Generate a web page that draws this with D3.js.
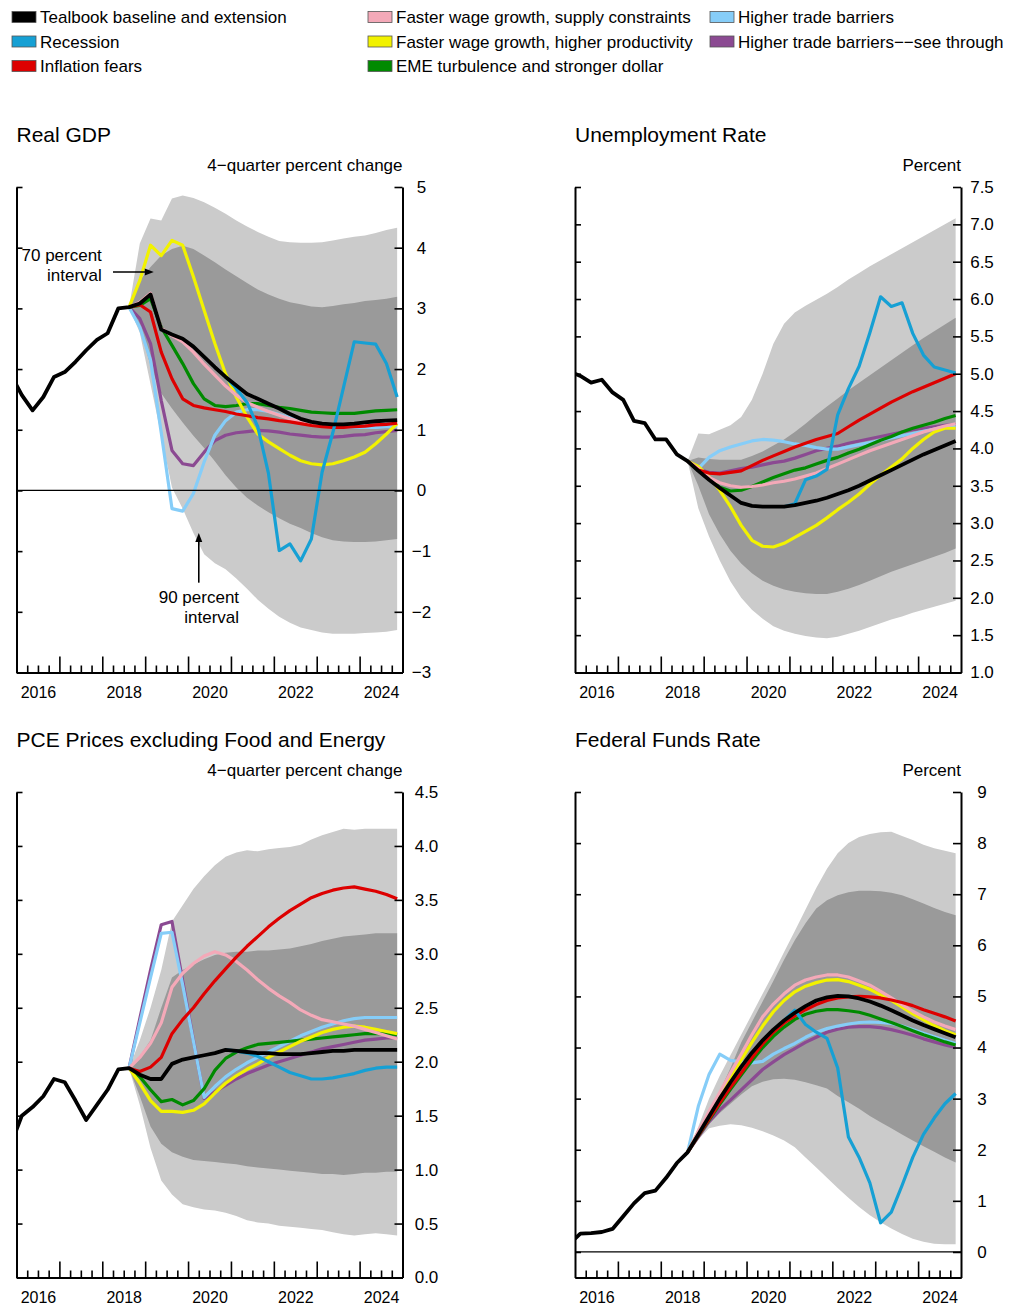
<!DOCTYPE html>
<html><head><meta charset="utf-8">
<script src="https://cdn.jsdelivr.net/npm/d3@7"></script>
<style>
body{margin:0;background:#fff;}
svg{display:block;font-family:"Liberation Sans",Arial,sans-serif;}
</style>
</head><body>
<svg id="chart" width="1021" height="1309"></svg>
<script>
// ---------- categories ----------
const quarters = ["2015Q4","2016Q1","2016Q2","2016Q3","2016Q4","2017Q1","2017Q2","2017Q3","2017Q4",
  "2018Q1","2018Q2","2018Q3","2018Q4","2019Q1","2019Q2","2019Q3","2019Q4","2020Q1","2020Q2","2020Q3","2020Q4",
  "2021Q1","2021Q2","2021Q3","2021Q4","2022Q1","2022Q2","2022Q3","2022Q4","2023Q1","2023Q2","2023Q3","2023Q4",
  "2024Q1","2024Q2","2024Q3","2024Q4"];
const histQuarters = quarters.slice(0, 12);      // 2015Q4 .. 2018Q3
const projQuarters = quarters.slice(11);         // 2018Q3 .. 2024Q4 (branch point first)
const recQuarters  = quarters.slice(20);         // 2020Q4 .. 2024Q4
const yearLabels = ["2016","2018","2020","2022","2024"];

const scenarioNames = ["Tealbook baseline and extension","Recession","Inflation fears",
  "Faster wage growth, supply constraints","Faster wage growth, higher productivity","EME turbulence and stronger dollar",
  "Higher trade barriers","Higher trade barriers\u2212\u2212see through"];
const scenarioColors = ["#000000","#16a0d4","#dd0000","#f4a9b8","#f2f200","#008a00","#86cdf8","#8b4a92"];

// ---------- Real GDP (4-quarter percent change) ----------
const gdpHist = [1.9,1.57,1.32,1.54,1.87,1.95,2.12,2.31,2.48,2.59,3.0,3.02];
const gdpBaseline = [3.08,3.23,2.65,2.57,2.5,2.37,2.2,2.03,1.87,1.73,1.59,1.51,1.43,1.35,1.26,1.18,1.13,1.1,1.09,1.09,1.1,1.12,1.14,1.15,1.16];
const gdpRecession = [1.87,1.68,1.45,1.05,0.28,-0.99,-0.88,-1.16,-0.8,0.3,0.95,1.7,2.45,2.43,2.41,2.09,1.54];
const gdpInflation = [3.06,2.94,2.28,1.84,1.51,1.4,1.36,1.33,1.3,1.26,1.23,1.2,1.18,1.15,1.13,1.1,1.07,1.05,1.04,1.04,1.05,1.06,1.08,1.09,1.11];
const gdpWageSupply = [3.1,3.25,2.67,2.55,2.45,2.28,2.08,1.9,1.72,1.57,1.45,1.37,1.3,1.24,1.18,1.13,1.1,1.08,1.07,1.07,1.08,1.1,1.12,1.13,1.15];
const gdpWageProd = [3.46,4.04,3.87,4.12,4.04,3.52,2.97,2.42,1.92,1.54,1.21,0.93,0.8,0.69,0.58,0.49,0.44,0.42,0.44,0.49,0.55,0.63,0.77,0.93,1.1];
const gdpEME = [3.05,3.16,2.69,2.39,2.09,1.76,1.51,1.4,1.38,1.4,1.43,1.43,1.4,1.37,1.35,1.32,1.29,1.28,1.27,1.27,1.27,1.29,1.31,1.32,1.33];
const gdpTrade = [2.69,2.15,0.95,-0.3,-0.34,-0.05,0.47,0.91,1.15,1.29,1.33,1.33,1.3,1.25,1.2,1.15,1.1,1.07,1.05,1.04,1.04,1.04,1.04,1.05,1.05];
const gdpTradeSee = [2.83,2.42,1.48,0.66,0.44,0.41,0.63,0.82,0.91,0.95,0.97,0.99,0.98,0.96,0.93,0.91,0.89,0.88,0.88,0.89,0.91,0.92,0.95,0.97,0.99];
const gdpLo90 = [2.6,1.75,0.9,0.05,-0.3,-0.7,-1.05,-1.2,-1.3,-1.45,-1.62,-1.8,-1.95,-2.08,-2.18,-2.26,-2.3,-2.34,-2.36,-2.36,-2.36,-2.35,-2.34,-2.33,-2.3];
const gdpLo70 = [2.7,2.05,1.6,1.35,1.12,0.9,0.7,0.48,0.25,0.05,-0.12,-0.25,-0.36,-0.46,-0.55,-0.62,-0.7,-0.77,-0.82,-0.84,-0.85,-0.85,-0.84,-0.82,-0.8];
const gdpHi70 = [3.46,3.68,3.87,3.98,4.03,3.98,3.87,3.76,3.64,3.53,3.42,3.31,3.23,3.16,3.1,3.07,3.03,3.02,3.04,3.07,3.09,3.12,3.14,3.16,3.19];
const gdpHi90 = [4.07,4.48,4.45,4.81,4.86,4.82,4.75,4.66,4.56,4.45,4.35,4.26,4.18,4.11,4.09,4.08,4.08,4.09,4.12,4.15,4.18,4.2,4.24,4.29,4.33];
const gdpTicks = [-3,-2,-1,0,1,2,3,4,5];

// ---------- Unemployment rate ----------
const urHist = [5.03,4.97,4.88,4.92,4.75,4.65,4.37,4.34,4.12,4.12,3.92,3.83];
const urBaseline = [3.7,3.58,3.47,3.37,3.27,3.23,3.22,3.22,3.22,3.24,3.27,3.3,3.34,3.39,3.44,3.5,3.57,3.64,3.71,3.78,3.85,3.92,3.98,4.04,4.1];
const urRecession = [3.22,3.26,3.58,3.63,3.72,4.45,4.8,5.1,5.55,6.03,5.9,5.95,5.54,5.25,5.09,5.05,5.01];
const urInflation = [3.71,3.67,3.66,3.68,3.7,3.77,3.84,3.9,3.96,4.02,4.07,4.12,4.16,4.2,4.29,4.38,4.46,4.54,4.62,4.69,4.76,4.82,4.88,4.94,5.0];
const urWageSupply = [3.73,3.61,3.54,3.5,3.48,3.49,3.51,3.54,3.56,3.59,3.63,3.67,3.73,3.79,3.85,3.91,3.97,4.02,4.07,4.12,4.17,4.22,4.26,4.3,4.33];
const urWageProd = [3.76,3.62,3.44,3.22,2.97,2.77,2.69,2.68,2.73,2.81,2.89,2.97,3.07,3.18,3.28,3.39,3.52,3.64,3.75,3.86,4.0,4.12,4.22,4.27,4.27];
const urEME = [3.73,3.59,3.48,3.43,3.44,3.49,3.55,3.61,3.66,3.71,3.74,3.79,3.84,3.88,3.94,3.99,4.05,4.11,4.16,4.22,4.27,4.31,4.35,4.4,4.44];
const urTrade = [3.73,3.88,3.97,4.02,4.06,4.1,4.12,4.11,4.09,4.06,4.04,4.01,3.99,3.99,4.02,4.05,4.08,4.11,4.14,4.17,4.2,4.23,4.26,4.29,4.31];
const urTradeSee = [3.72,3.68,3.67,3.7,3.73,3.75,3.78,3.81,3.83,3.87,3.92,3.97,4.0,4.03,4.07,4.1,4.13,4.16,4.19,4.22,4.25,4.27,4.29,4.31,4.32];
const urLo90 = [3.2,2.82,2.5,2.22,2.0,1.84,1.72,1.62,1.56,1.52,1.49,1.47,1.46,1.48,1.52,1.56,1.61,1.66,1.71,1.75,1.8,1.84,1.88,1.92,1.96];
const urLo70 = [3.5,3.12,2.85,2.63,2.46,2.33,2.23,2.16,2.11,2.08,2.06,2.05,2.05,2.08,2.12,2.17,2.23,2.29,2.35,2.4,2.45,2.5,2.55,2.6,2.66];
const urHi70 = [3.88,3.86,3.85,3.85,3.85,3.9,3.96,4.04,4.12,4.22,4.33,4.45,4.56,4.67,4.78,4.88,4.98,5.08,5.18,5.28,5.38,5.48,5.57,5.66,5.75];
const urHi90 = [4.2,4.19,4.25,4.31,4.42,4.65,5.0,5.4,5.67,5.82,5.91,5.99,6.07,6.16,6.26,6.35,6.44,6.52,6.6,6.68,6.76,6.84,6.92,7.0,7.08];
const urTicks = [1.0,1.5,2.0,2.5,3.0,3.5,4.0,4.5,5.0,5.5,6.0,6.5,7.0,7.5];

// ---------- PCE prices excluding food and energy ----------
const pceHist = [1.24,1.5,1.58,1.68,1.84,1.81,1.64,1.46,1.6,1.74,1.93,1.94];
const pceBaseline = [1.88,1.84,1.84,1.98,2.02,2.04,2.06,2.08,2.11,2.1,2.09,2.08,2.08,2.07,2.07,2.07,2.08,2.09,2.1,2.1,2.11,2.11,2.11,2.11,2.11];
const pceRecession = [2.11,2.1,2.08,2.05,2.0,1.95,1.9,1.87,1.84,1.84,1.85,1.87,1.89,1.92,1.94,1.95,1.95];
const pceInflation = [1.91,1.95,2.04,2.26,2.39,2.5,2.63,2.75,2.86,2.97,3.07,3.16,3.25,3.33,3.4,3.46,3.52,3.56,3.59,3.61,3.62,3.6,3.58,3.55,3.51];
const pceWageSupply = [2.04,2.17,2.36,2.69,2.82,2.91,2.98,3.02,2.99,2.93,2.85,2.76,2.68,2.61,2.55,2.48,2.43,2.39,2.37,2.35,2.33,2.3,2.27,2.24,2.21];
const pceWageProd = [1.8,1.64,1.54,1.54,1.53,1.55,1.61,1.71,1.8,1.87,1.93,1.98,2.04,2.09,2.14,2.19,2.23,2.27,2.3,2.32,2.33,2.32,2.3,2.28,2.26];
const pceEME = [1.86,1.74,1.63,1.65,1.6,1.64,1.75,1.92,2.03,2.09,2.13,2.16,2.17,2.18,2.19,2.2,2.21,2.22,2.23,2.24,2.25,2.26,2.26,2.26,2.25];
const pceTrade = [2.36,2.78,3.19,3.2,2.71,2.19,1.67,1.77,1.86,1.93,1.99,2.04,2.09,2.14,2.19,2.24,2.28,2.32,2.35,2.38,2.4,2.41,2.41,2.41,2.41];
const pceTradeSee = [2.4,2.85,3.27,3.3,2.75,2.2,1.66,1.72,1.78,1.84,1.89,1.93,1.97,2.0,2.03,2.06,2.09,2.12,2.14,2.16,2.18,2.2,2.21,2.22,2.22];
const pceLo90 = [1.6,1.2,0.9,0.77,0.68,0.65,0.63,0.62,0.6,0.57,0.53,0.51,0.5,0.48,0.47,0.46,0.45,0.44,0.42,0.4,0.39,0.4,0.41,0.4,0.39];
const pceLo70 = [1.68,1.4,1.24,1.16,1.12,1.09,1.08,1.07,1.06,1.05,1.03,1.02,1.01,1.0,0.99,0.98,0.97,0.96,0.96,0.95,0.96,0.97,0.97,0.98,0.98];
const pceHi70 = [2.05,2.2,2.5,2.78,2.85,2.9,2.95,2.99,3.01,3.02,3.02,3.03,3.03,3.04,3.05,3.07,3.09,3.12,3.14,3.16,3.17,3.18,3.19,3.19,3.19];
const pceHi90 = [2.2,2.5,2.85,3.3,3.45,3.6,3.72,3.82,3.9,3.94,3.96,3.95,3.97,3.98,3.99,4.01,4.06,4.1,4.13,4.16,4.15,4.16,4.16,4.16,4.16];
const pceTicks = [0.0,0.5,1.0,1.5,2.0,2.5,3.0,3.5,4.0,4.5];

// ---------- Federal funds rate ----------
const ffrHist = [0.16,0.36,0.37,0.39,0.45,0.7,0.95,1.15,1.2,1.45,1.74,1.95];
const ffrBaseline = [2.3,2.65,3.0,3.32,3.62,3.9,4.14,4.35,4.53,4.68,4.81,4.92,4.98,5.01,5.0,4.96,4.9,4.82,4.73,4.63,4.53,4.44,4.36,4.28,4.2];
const ffrRecession = [4.53,4.73,4.45,4.3,4.18,3.6,2.25,1.85,1.35,0.57,0.78,1.3,1.85,2.3,2.62,2.9,3.1];
const ffrInflation = [2.28,2.6,2.92,3.22,3.5,3.8,4.07,4.3,4.48,4.62,4.74,4.84,4.92,4.97,4.99,5.0,4.99,4.97,4.93,4.88,4.82,4.74,4.67,4.6,4.52];
const ffrWageSupply = [2.36,2.75,3.12,3.5,3.87,4.25,4.6,4.85,5.05,5.22,5.32,5.38,5.42,5.42,5.38,5.3,5.22,5.1,4.97,4.84,4.71,4.6,4.5,4.42,4.35];
const ffrWageProd = [2.34,2.7,3.06,3.42,3.76,4.1,4.42,4.7,4.92,5.09,5.2,5.27,5.32,5.33,5.29,5.22,5.14,5.03,4.92,4.79,4.66,4.54,4.43,4.33,4.25];
const ffrEME = [2.27,2.58,2.89,3.18,3.46,3.74,4.0,4.22,4.4,4.55,4.65,4.71,4.74,4.74,4.72,4.69,4.63,4.56,4.49,4.41,4.33,4.25,4.18,4.11,4.05];
const ffrTrade = [2.85,3.47,3.87,3.75,3.72,3.7,3.73,3.87,3.98,4.08,4.2,4.3,4.37,4.42,4.46,4.49,4.5,4.49,4.47,4.42,4.35,4.28,4.21,4.14,4.08];
const ffrTradeSee = [2.25,2.55,2.78,2.97,3.17,3.37,3.57,3.72,3.86,3.98,4.1,4.2,4.3,4.36,4.4,4.41,4.41,4.39,4.35,4.3,4.24,4.17,4.11,4.05,4.0];
const ffrLo90 = [2.2,2.42,2.47,2.5,2.48,2.43,2.36,2.28,2.18,2.05,1.85,1.65,1.45,1.25,1.06,0.88,0.72,0.58,0.46,0.35,0.26,0.2,0.16,0.15,0.15];
const ffrLo70 = [2.28,2.5,2.72,2.9,3.08,3.24,3.33,3.38,3.39,3.37,3.32,3.26,3.2,3.05,2.93,2.8,2.66,2.54,2.42,2.3,2.18,2.07,1.96,1.85,1.75];
const ffrHi70 = [2.35,2.75,3.15,3.6,4.1,4.5,4.9,5.3,5.72,6.1,6.43,6.72,6.88,6.98,7.04,7.07,7.07,7.06,7.03,6.98,6.9,6.82,6.73,6.65,6.59];
const ffrHi90 = [2.45,3.0,3.45,3.85,4.25,4.65,5.05,5.45,5.87,6.28,6.7,7.12,7.5,7.8,8.0,8.12,8.18,8.21,8.22,8.14,8.06,7.97,7.9,7.85,7.8];
const ffrTicks = [0,1,2,3,4,5,6,7,8,9];

// ---------- helpers ----------
const qTime = q => +q.slice(0,4) + (+q.slice(5) - 0.5) / 4;
const pts = (qs, vals) => qs.map((q,i) => ({t: qTime(q), v: vals[i]}));
const minus = s => String(s).replace("-", "\u2212");

const panels = [
  {title:"Real GDP", units:"4\u2212quarter percent change", left:16.5, right:402.5, top:187, bottom:672.5,
   domain:[-3,5], ticks:gdpTicks, fmt:d=>minus(d3.format("d")(d)), labelDx:19, zero:true,
   hist:gdpHist, base:gdpBaseline, rec:gdpRecession,
   scen:[gdpTradeSee,gdpTrade,gdpEME,gdpWageProd,gdpWageSupply,gdpInflation],
   lo90:gdpLo90, lo70:gdpLo70, hi70:gdpHi70, hi90:gdpHi90},
  {title:"Unemployment Rate", units:"Percent", left:575, right:961, top:187, bottom:672.5,
   domain:[1,7.5], ticks:urTicks, fmt:d3.format(".1f"), labelDx:21, zero:false,
   hist:urHist, base:urBaseline, rec:urRecession,
   scen:[urTradeSee,urTrade,urEME,urWageProd,urWageSupply,urInflation],
   lo90:urLo90, lo70:urLo70, hi70:urHi70, hi90:urHi90},
  {title:"PCE Prices excluding Food and Energy", units:"4\u2212quarter percent change", left:16.5, right:402.5, top:792, bottom:1277.5,
   domain:[0,4.5], ticks:pceTicks, fmt:d3.format(".1f"), labelDx:24, zero:false,
   hist:pceHist, base:pceBaseline, rec:pceRecession,
   scen:[pceTradeSee,pceTrade,pceEME,pceWageProd,pceWageSupply,pceInflation],
   lo90:pceLo90, lo70:pceLo70, hi70:pceHi70, hi90:pceHi90},
  {title:"Federal Funds Rate", units:"Percent", left:575, right:961, top:792, bottom:1277.5,
   domain:[-0.5,9], ticks:ffrTicks, fmt:d3.format("d"), labelDx:21, zero:true,
   hist:ffrHist, base:ffrBaseline, rec:ffrRecession,
   scen:[ffrTradeSee,ffrTrade,ffrEME,ffrWageProd,ffrWageSupply,ffrInflation],
   lo90:ffrLo90, lo70:ffrLo70, hi70:ffrHi70, hi90:ffrHi90}
];
// colour index for the scen list order above
const scenColorIdx = [7,6,5,4,3,2];

const svg = d3.select("#chart");

// ---------- legend ----------
const legendCols = [12, 368, 710];
const legendLayout = [[0,0],[0,1],[0,2],[1,0],[1,1],[1,2],[2,0],[2,1]];
const leg = svg.append("g");
scenarioNames.forEach((name,i) => {
  const [c,r] = legendLayout[i];
  const g = leg.append("g").attr("transform", `translate(${legendCols[c]},${17 + r*24.5})`);
  g.append("rect").attr("x",0).attr("y",-5.5).attr("width",24).attr("height",11)
    .attr("fill", scenarioColors[i]).attr("stroke","#555").attr("stroke-width",0.8);
  g.append("text").attr("x",28).attr("y",6).attr("font-size",17).attr("fill","#000").text(name);
});

panels.forEach((p, pi) => {
  const x = d3.scaleLinear().domain([2016, 2025]).range([p.left, p.right]);
  const y = d3.scaleLinear().domain(p.domain).range([p.bottom, p.top]);
  const g = svg.append("g");
  const clipId = "clip" + pi;
  g.append("clipPath").attr("id", clipId).append("rect")
    .attr("x", p.left).attr("y", p.top).attr("width", p.right - p.left).attr("height", p.bottom - p.top);
  const plot = g.append("g").attr("clip-path", `url(#${clipId})`);

  const last = p.hist[p.hist.length - 1];
  const bandData = projQuarters.map((q,i) => ({
    t: qTime(q),
    lo90: i ? p.lo90[i-1] : last, lo70: i ? p.lo70[i-1] : last,
    hi70: i ? p.hi70[i-1] : last, hi90: i ? p.hi90[i-1] : last }));
  plot.append("path").datum(bandData).attr("fill", "#cbcbcb")
    .attr("d", d3.area().x(d => x(d.t)).y0(d => y(d.lo90)).y1(d => y(d.hi90)));
  plot.append("path").datum(bandData).attr("fill", "#9a9a9a")
    .attr("d", d3.area().x(d => x(d.t)).y0(d => y(d.lo70)).y1(d => y(d.hi70)));

  if (p.zero) {
    g.append("line").attr("x1", p.left).attr("x2", p.right).attr("y1", y(0)).attr("y2", y(0))
      .attr("stroke", "#000").attr("stroke-width", 1.2);
  }

  const line = d3.line().x(d => x(d.t)).y(d => y(d.v));
  p.scen.forEach((vals, si) => {
    plot.append("path").datum(pts(projQuarters, [last, ...vals]))
      .attr("fill","none").attr("stroke", scenarioColors[scenColorIdx[si]])
      .attr("stroke-width", 3.2).attr("stroke-linejoin","round").attr("d", line);
  });
  plot.append("path").datum(pts(recQuarters, p.rec))
    .attr("fill","none").attr("stroke", scenarioColors[1])
    .attr("stroke-width", 3.2).attr("stroke-linejoin","round").attr("d", line);
  plot.append("path").datum(pts(quarters, [...p.hist, ...p.base]))
    .attr("fill","none").attr("stroke", scenarioColors[0])
    .attr("stroke-width", 3.8).attr("stroke-linejoin","round").attr("d", line);

  // axes
  const axStyle = sel => { sel.selectAll("path.domain").attr("stroke","#000").attr("stroke-width",2);
                           sel.selectAll(".tick line").attr("stroke","#000").attr("stroke-width",1.6); };
  const leftAx = g.append("g").attr("transform", `translate(${p.left},0)`)
    .call(d3.axisRight(y).tickValues(p.ticks).tickSize(6).tickSizeOuter(0).tickFormat(""));
  axStyle(leftAx);
  const rightAx = g.append("g").attr("transform", `translate(${p.right},0)`)
    .call(d3.axisRight(y).tickValues(p.ticks).tickSize(-8).tickSizeOuter(0).tickPadding(p.labelDx).tickFormat(p.fmt));
  axStyle(rightAx);
  rightAx.selectAll("text").attr("text-anchor","middle").attr("font-size",17)
    .attr("font-family",'"Liberation Sans",Arial,sans-serif').attr("fill","#000");

  const minorT = d3.range(2016.25, 2025, 0.25).filter(t => Math.abs(t - Math.round(t)) > 0.01);
  const majorT = d3.range(2017, 2025, 1);
  const botMinor = g.append("g").attr("transform", `translate(0,${p.bottom})`)
    .call(d3.axisBottom(x).tickValues(minorT).tickSize(-7).tickSizeOuter(0).tickFormat(""));
  axStyle(botMinor);
  const botMajor = g.append("g").attr("transform", `translate(0,${p.bottom})`)
    .call(d3.axisBottom(x).tickValues(majorT).tickSize(-16).tickSizeOuter(0).tickFormat(""));
  axStyle(botMajor);
  const botLab = g.append("g").attr("transform", `translate(0,${p.bottom})`)
    .call(d3.axisBottom(x).tickValues(yearLabels.map(s => +s + 0.5)).tickSize(0).tickPadding(14)
      .tickFormat((d,i) => yearLabels[i]));
  botLab.select("path.domain").remove();
  botLab.selectAll("text").attr("font-size",16).attr("fill","#000")
    .attr("font-family",'"Liberation Sans",Arial,sans-serif');

  // title and units
  g.append("text").attr("x", p.left).attr("y", p.top - 45).attr("font-size", 21).attr("fill","#000").text(p.title);
  g.append("text").attr("x", p.right).attr("y", p.top - 16).attr("text-anchor","end")
    .attr("font-size", 17).attr("fill","#000").text(p.units);

  // annotations on the GDP panel
  if (pi === 0) {
    const ann = g.append("g").attr("font-size", 17).attr("fill","#000");
    ann.append("text").attr("x", x(2017.99)).attr("y", y(3.78)).attr("text-anchor","end").text("70 percent");
    ann.append("text").attr("x", x(2017.99)).attr("y", y(3.45)).attr("text-anchor","end").text("interval");
    ann.append("line").attr("x1", x(2018.25)).attr("x2", x(2019.05)).attr("y1", y(3.6)).attr("y2", y(3.6))
      .attr("stroke","#000").attr("stroke-width",1.6);
    ann.append("path").attr("fill","#000")
      .attr("d", `M${x(2019.2)},${y(3.6)} l-9,-3.5 l0,7 z`);
    ann.append("text").attr("x", x(2021.19)).attr("y", y(-1.86)).attr("text-anchor","end").text("90 percent");
    ann.append("text").attr("x", x(2021.19)).attr("y", y(-2.19)).attr("text-anchor","end").text("interval");
    ann.append("line").attr("x1", x(2020.25)).attr("x2", x(2020.25)).attr("y1", y(-1.52)).attr("y2", y(-0.84))
      .attr("stroke","#000").attr("stroke-width",1.6);
    ann.append("path").attr("fill","#000")
      .attr("d", `M${x(2020.25)},${y(-0.7)} l-3.5,9 l7,0 z`);
  }
});
</script>
</body></html>
